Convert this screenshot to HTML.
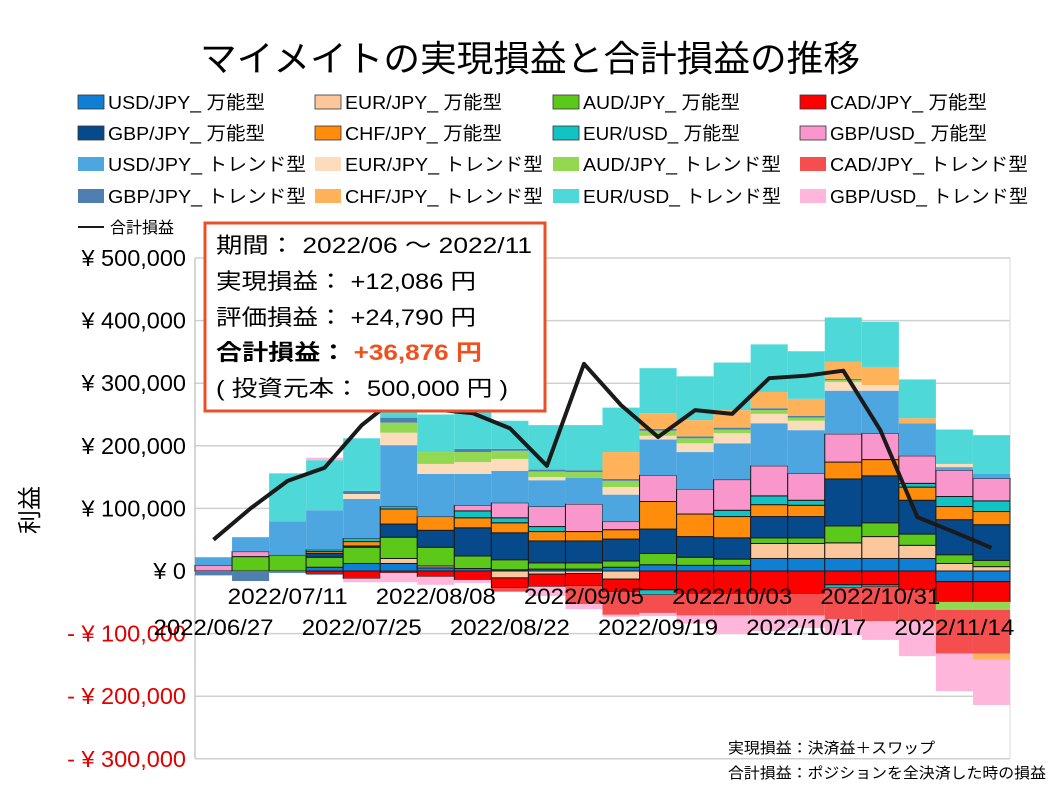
<!DOCTYPE html>
<html><head><meta charset="utf-8">
<style>
html,body{margin:0;padding:0;background:#fff;}
body{width:1058px;height:794px;overflow:hidden;font-family:"Liberation Sans","Noto Sans CJK JP",sans-serif;}
svg text{font-family:"Liberation Sans","Noto Sans CJK JP",sans-serif;}
</style></head>
<body>
<svg id="chart" width="1058" height="794" viewBox="0 0 1058 794">
<text x="200" y="71" font-size="36" textLength="660" lengthAdjust="spacingAndGlyphs" fill="#000">マイメイトの実現損益と合計損益の推移</text>
<g id="legend"></g>
<g id="grid"></g>
<g id="bars"></g>
<g id="line"></g>
<g id="yaxis"></g>
<g id="xaxis"></g>
<text x="38" y="510" font-size="24" text-anchor="middle" transform="rotate(-90 38 510)">利益</text>
<g>
<rect x="205" y="223" width="340" height="188" fill="#fff" stroke="#e8502a" stroke-width="3"/>
<text x="216" y="253" font-size="22" textLength="316" lengthAdjust="spacingAndGlyphs">期間： 2022/06 ～ 2022/11</text>
<text x="216" y="289" font-size="22" textLength="260" lengthAdjust="spacingAndGlyphs">実現損益： +12,086 円</text>
<text x="216" y="325" font-size="22" textLength="260" lengthAdjust="spacingAndGlyphs">評価損益： +24,790 円</text>
<text x="216" y="360" font-size="22" font-weight="bold" textLength="266" lengthAdjust="spacingAndGlyphs">合計損益： <tspan fill="#f0501e">+36,876 円</tspan></text>
<text x="216" y="396" font-size="22" textLength="292" lengthAdjust="spacingAndGlyphs">( 投資元本： 500,000 円 )</text>
</g>
<text x="728" y="753" font-size="15" textLength="207" lengthAdjust="spacingAndGlyphs">実現損益：決済益＋スワップ</text>
<text x="728" y="778" font-size="15" textLength="318" lengthAdjust="spacingAndGlyphs">合計損益：ポジションを全決済した時の損益</text>
</svg>
<script>
const categories = ["2022/06/27","2022/07/04","2022/07/11","2022/07/18","2022/07/25","2022/08/01","2022/08/08","2022/08/15","2022/08/22","2022/08/29","2022/09/05","2022/09/12","2022/09/19","2022/09/26","2022/10/03","2022/10/10","2022/10/17","2022/10/24","2022/10/31","2022/11/07","2022/11/14","2022/11/21"];
const seriesNames = ["USD/JPY_ 万能型","EUR/JPY_ 万能型","AUD/JPY_ 万能型","CAD/JPY_ 万能型","GBP/JPY_ 万能型","CHF/JPY_ 万能型","EUR/USD_ 万能型","GBP/USD_ 万能型","USD/JPY_ トレンド型","EUR/JPY_ トレンド型","AUD/JPY_ トレンド型","CAD/JPY_ トレンド型","GBP/JPY_ トレンド型","CHF/JPY_ トレンド型","EUR/USD_ トレンド型","GBP/USD_ トレンド型"];
const seriesColors = ["#0f7fd4","#fcc79d","#5cc81a","#ff0000","#074a8c","#ff8c0a","#10c4c4","#f996cc","#4ea6e0","#fddcbc","#92d850","#f44e4e","#4f7fb0","#ffb25a","#4fd8d8","#ffb6da"];
// values in thousands of yen
const usdjpyM = [0,0,0,6,12,12,5,4,2,3,3,6,10,9,9,20,20,20,20,20,-17,-17];
const eurjpyM = [0,0,0,0,0,8,3,0,-11,-5,-4,-13,0,0,0,24,24,25,35,21,12,7];
const audjpyM = [0,23,25,16,26,34,30,20,16,10,10,10,18,13,10,9,9,27,22,18,14,10];
const cadjpyM = [0,0,0,-4,-12,-3,-9,-14,-16,-20,-20,-20,-30,-36,-36,-36,-36,-22,-22,-30,-32,-32];
const gbpjpyM = [0,0,0,6,2,21,27,45,43,35,35,35,39,33,34,34,34,75,75,54,56,57];
const chfjpyM = [0,0,0,3,7,24,22,16,16,15,15,15,44,36,34,19,18,27,26,21,21,21];
const eurusdM = [0,0,0,3,5,4,0,11,8,8,0,0,-8,0,10,14,8,-5,-3,6,16,17];
const gbpusdM = [9,8,0,0,0,0,0,9,24,32,44,13,42,40,49,48,43,45,42,44,42,36];
const usdjpyT = [13,23,54,63,63,98,68,50,51,42,42,43,57,59,58,68,69,69,68,52,5,7];
const eurjpyT = [0,0,0,0,8,20,16,19,19,5,0,12,6,14,16,15,15,14,9,0,5,0];
const audjpyT = [0,0,0,0,0,16,19,16,13,9,9,10,8,8,6,6,5,3,0,0,-13,-13];
const cadjpyT = [0,0,0,0,0,0,0,0,-6,0,-29,-37,-29,-35,-35,-35,-35,-50,-55,-50,-70,-70];
const gbpjpyT = [-7,-16,-3,-2,5,8,0,5,3,3,3,3,3,3,3,3,3,2,0,0,0,0];
const chfjpyT = [0,0,0,0,0,0,0,0,0,0,0,43,25,26,28,26,27,27,29,8,0,-10];
const eurusdT = [0,0,77,80,84,40,60,60,45,71,72,71,72,70,76,76,76,71,72,62,55,62];
const gbpusdT = [0,0,0,4,-6,-15,-13,-5,0,-15,-8,-3,-5,-13,-29,-25,-20,-25,-30,-56,-60,-72];
const totalLine = [50,100,144,165,233,280,258,252,228,168,331,265,214,257,251,308,312,320,225,86,62,37];
const yTicks = [500,400,300,200,100,0,-100,-200,-300];
const yTickLabels = ["¥ 500,000","¥ 400,000","¥ 300,000","¥ 200,000","¥ 100,000","¥ 0","- ¥ 100,000","- ¥ 200,000","- ¥ 300,000"];

const series = [usdjpyM,eurjpyM,audjpyM,cadjpyM,gbpjpyM,chfjpyM,eurusdM,gbpusdM,usdjpyT,eurjpyT,audjpyT,cadjpyT,gbpjpyT,chfjpyT,eurusdT,gbpusdT];
const NS="http://www.w3.org/2000/svg";
const plotL=195, plotR=1010, y0=571, pxPer=0.626;
const bw=(plotR-plotL)/categories.length;
function yScale(v){return y0 - v*pxPer;}
function xScale(i){return plotL + bw*i;}
function mk(tag,attrs,parent){const e=document.createElementNS(NS,tag);for(const k in attrs)e.setAttribute(k,attrs[k]);parent.appendChild(e);return e;}

const grid=document.getElementById('grid');
yTicks.forEach(t=>{
  const l=mk('line',{x1:plotL,x2:plotR,y1:yScale(t),y2:yScale(t),stroke:'#d0d0d0','stroke-width':1.5},grid);
  
  
});
const vl=mk('line',{x1:plotL,x2:plotL,y1:yScale(500),y2:yScale(-300),stroke:'#c8c8c8','stroke-width':1.5},grid);


const vr=mk('line',{x1:plotR,x2:plotR,y1:yScale(500),y2:yScale(-300),stroke:'#d8d8d8','stroke-width':1},grid);



const bars=document.getElementById('bars');
categories.forEach((c,i)=>{
  let pos=0,neg=0;
  series.forEach((s,k)=>{
    const v=s[i]; if(!v) return;
    let top,bot;
    if(v>0){bot=pos;top=pos+v;pos=top;}else{top=neg;bot=neg+v;neg=bot;}
    const r=mk('rect',{x:xScale(i),y:yScale(top),width:bw,height:yScale(bot)-yScale(top),fill:seriesColors[k]},bars);
    if(k<8){r.setAttribute('stroke','#1a1a1a');r.setAttribute('stroke-width','1');}
    
    
  });
});

const lineG=document.getElementById('line');
const pts=totalLine.map((v,i)=>(xScale(i)+bw/2)+','+yScale(v)).join(' ');
const pl=mk('polyline',{points:pts,fill:'none',stroke:'#1a1a1a','stroke-width':4,'stroke-linejoin':'round'},lineG);



const ya=document.getElementById('yaxis');
yTicks.forEach((t,j)=>{
  const tx=mk('text',{x:186,y:yScale(t)+8,'font-size':23.5,'text-anchor':'end',fill:t<0?'#e00000':'#000'},ya);
  tx.textContent=yTickLabels[j];
  
  
});

const xa=document.getElementById('xaxis');
categories.forEach((c,i)=>{
  if(i%2) return;
  const row=(i/2)%2===0?1:0;
  const tx=mk('text',{x:xScale(i)+bw/2,y:row?635:604,'font-size':22,'text-anchor':'middle',textLength:120,lengthAdjust:'spacingAndGlyphs',fill:'#000'},xa);
  tx.textContent=c;
  
  
});

const lg=document.getElementById('legend');
const colX=[78,315,553,800], rowY=[102,133,164,196];
seriesNames.forEach((n,k)=>{
  const col=k%4,row=Math.floor(k/4);
  const sw=mk('rect',{x:colX[col],y:rowY[row]-7,width:26,height:14,fill:seriesColors[k]},lg);
  if(k<8){sw.setAttribute('stroke','#333');sw.setAttribute('stroke-width','0.8');}
  
  
  const t=mk('text',{x:colX[col]+30,y:rowY[row]+7,'font-size':18.5,textLength:k<8?157:198,lengthAdjust:'spacingAndGlyphs'},lg);
  t.textContent=n;
  
  
});
const ll=mk('line',{x1:78,x2:104,y1:227,y2:227,stroke:'#1a1a1a','stroke-width':2},lg);


const lt=mk('text',{x:110,y:233,'font-size':16},lg);
lt.textContent='合計損益';


</script>
</body></html>
